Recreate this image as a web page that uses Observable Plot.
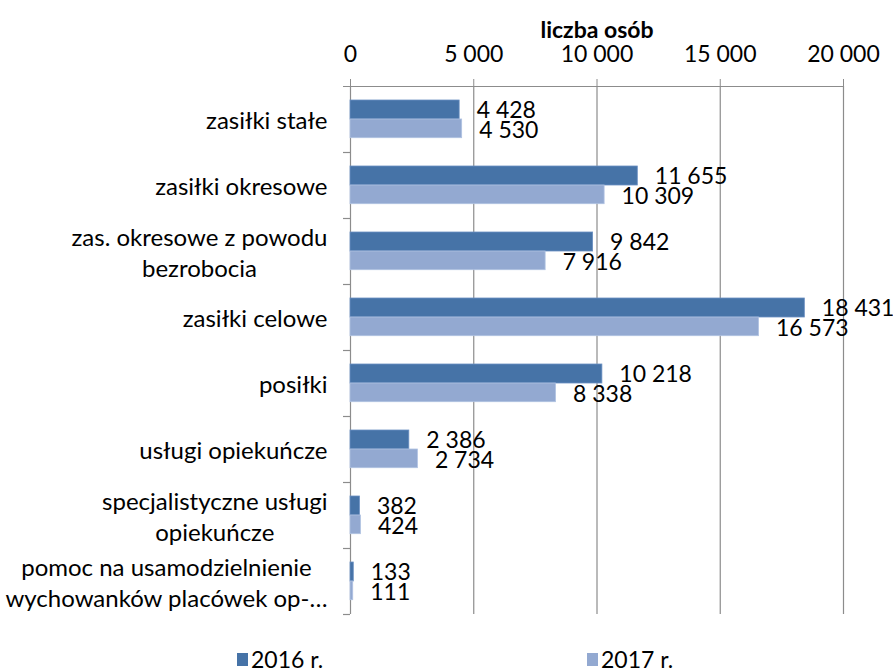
<!DOCTYPE html>
<html>
<head>
<meta charset="utf-8">
<script src="https://cdn.jsdelivr.net/npm/d3@7"></script>
<script src="https://cdn.jsdelivr.net/npm/@observablehq/plot@0.6"></script>
<style>
  body { margin: 0; background: #fff; font-family: Lato, sans-serif; }
  #legend { position: relative; height: 42px; font-size: 23px; color: #000; }
  .item { position: absolute; top: 14px; height: 30px; display: flex; align-items: center; }
  .sw { width: 11px; height: 13px; margin-right: 3px; }
</style>
</head>
<body>
<div id="chart"></div>
<div id="legend"></div>
<script>
const categories = [
  "zasiłki stałe",
  "zasiłki okresowe",
  "zas. okresowe z powodu\nbezrobocia",
  "zasiłki celowe",
  "posiłki",
  "usługi opiekuńcze",
  "specjalistyczne usługi\nopiekuńcze",
  "pomoc na usamodzielnienie\nwychowanków placówek op-…"
];
const values2016 = [4428, 11655, 9842, 18431, 10218, 2386, 382, 133];
const values2017 = [4530, 10309, 7916, 16573, 8338, 2734, 424, 111];
const seriesNames = ["2016 r.", "2017 r."];
const xTicks = [0, 5000, 10000, 15000, 20000];
const axisTitle = "liczba osób";
const colors = ["#4673A7", "#93A9D1"];

const rows16 = categories.map((c, i) => ({category: c, value: values2016[i]}));
const rows17 = categories.map((c, i) => ({category: c, value: values2017[i]}));

const pl = d3.formatLocale({decimal: ",", thousands: " ", grouping: [3], currency: ["", ""]});
const fmt = pl.format(",d");

const width = 893, height = 630;
const marginTop = 86, marginBottom = 16, marginLeft = 350, marginRight = 50;
const band = (height - marginTop - marginBottom) / categories.length;

const gridColor = "#8c8c8c";
const numSize = 23, catSize = 24;

const chart = Plot.plot({
  width, height, marginTop, marginBottom, marginLeft, marginRight,
  style: {fontFamily: "Lato, sans-serif", fontSize: numSize + "px", color: "#000", background: "#fff", overflow: "visible"},
  x: {domain: [xTicks[0], xTicks[xTicks.length - 1]]},
  y: {domain: categories, padding: 0},
  marks: [
    Plot.ruleX(xTicks, {stroke: gridColor, strokeWidth: 1.2}),
    Plot.barX(rows16, {y: "category", x: "value", fill: colors[0], stroke: "#6a8fc2", strokeWidth: 0.8, insetTop: 14, insetBottom: band - 33}),
    Plot.barX(rows17, {y: "category", x: "value", fill: colors[1], stroke: "#b0c2e2", strokeWidth: 0.8, insetTop: 33, insetBottom: band - 51.7}),
    Plot.text(rows16, {y: "category", x: "value", text: d => fmt(d.value), textAnchor: "start", dx: 17, dy: -8.5, fill: "#000", fontSize: numSize}),
    Plot.text(rows17, {y: "category", x: "value", text: d => fmt(d.value), textAnchor: "start", dx: 17, dy: 11, fill: "#000", fontSize: numSize}),
    // top axis line + boundary ticks on the left axis
    Plot.ruleY([categories[0]], {y: d => d, dy: -band / 2, x1: xTicks[0], x2: xTicks[xTicks.length - 1], insetLeft: -7, stroke: gridColor, strokeWidth: 1.2}),
    Plot.ruleY(categories.slice(1), {y: d => d, dy: -band / 2, x1: xTicks[0], x2: xTicks[0], insetLeft: -7, stroke: gridColor, strokeWidth: 1.2}),
    Plot.ruleY([categories[categories.length - 1]], {y: d => d, dy: band / 2, x1: xTicks[0], x2: xTicks[0], insetLeft: -7, stroke: gridColor, strokeWidth: 1.2}),
    Plot.axisX({anchor: "top", ticks: xTicks, tickFormat: fmt, tickSize: 8, tickPadding: 17, stroke: gridColor, label: null, fontSize: numSize}),
    Plot.axisY({anchor: "left", tickSize: 0, tickPadding: 23, label: null, lineHeight: 1.3, fontSize: catSize}),
    Plot.text([axisTitle], {frameAnchor: "top", text: d => d, dy: -65, fontWeight: "bold", fontSize: numSize, fill: "#000"})
  ]
});

document.getElementById("chart").append(chart);

// center multi-line category labels within their right-aligned block
chart.querySelectorAll('[aria-label="y-axis tick label"] text').forEach(t => {
  const spans = t.querySelectorAll("tspan");
  if (spans.length > 1) {
    let maxW = 0;
    spans.forEach(s => { maxW = Math.max(maxW, s.getComputedTextLength()); });
    t.setAttribute("text-anchor", "middle");
    spans.forEach(s => s.setAttribute("x", -maxW / 2 + (+s.getAttribute("x") || 0)));
  }
});

const legend = document.getElementById("legend");
const lefts = [237, 587];
seriesNames.forEach((name, i) => {
  const item = document.createElement("div");
  item.className = "item";
  item.style.left = lefts[i] + "px";
  const sw = document.createElement("span");
  sw.className = "sw";
  sw.style.background = colors[i];
  const lb = document.createElement("span");
  lb.textContent = name;
  item.append(sw, lb);
  legend.append(item);
});
</script>
</body>
</html>
